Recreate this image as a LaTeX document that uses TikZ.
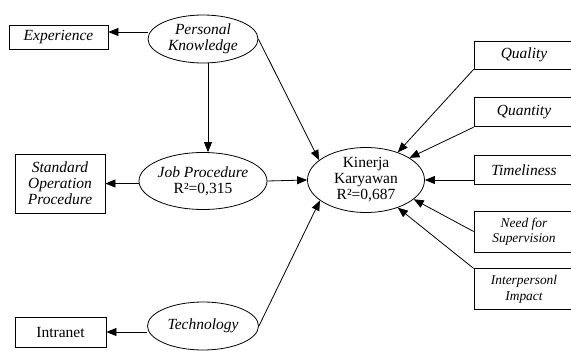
\documentclass[tikz,border=0pt]{standalone}
\usepackage{fontspec}
\setmainfont{Liberation Serif}
\usetikzlibrary{arrows.meta,positioning,shapes.geometric}

\begin{document}
\begin{tikzpicture}[x=1pt,y=-1pt,>={Triangle[length=10pt,width=8pt]},
font=\fontsize{15.5}{16}\selectfont,
every node/.style={inner sep=0pt,align=center},
lv/.style={draw,line width=0.8pt,ellipse},
ind/.style={draw,line width=0.8pt,rectangle},
sml/.style={font=\fontsize{13.4}{15.5}\selectfont\itshape},
arr/.style={->,line width=0.8pt}]
\useasboundingbox (0,0) rectangle (571,351);
% latent variables
\node[lv,minimum width=110pt,minimum height=48pt] (pk) at (203,39) {\itshape Personal\\\itshape Knowledge};
\node[lv,minimum width=111pt,minimum height=57pt] (jp) at (203,181) {\itshape Job Procedure\\R²=0,315};
\node[lv,minimum width=111pt,minimum height=48pt] (tech) at (203,326) {\itshape Technology};
\node[lv,minimum width=117pt,minimum height=65pt] (kk) at (366,180) {Kinerja\\Karyawan\\R²=0,687};
% indicators, left
\node[ind,minimum width=99pt,minimum height=24pt] (exp) at (58.5,37) {\itshape Experience};
\node[ind,minimum width=90pt,minimum height=59pt] (sop) at (60,183.5) {\itshape Standard\\\itshape Operation\\\itshape Procedure};
\node[ind,minimum width=91pt,minimum height=30pt] (intra) at (60.5,332) {Intranet};
% indicators, right
\node[ind,minimum width=100pt,minimum height=28pt] (qual) at (524,55) {\itshape Quality};
\node[ind,minimum width=100pt,minimum height=29pt,below=28pt of qual] (quan) {\itshape Quantity};
\node[ind,minimum width=100pt,minimum height=29pt,below=28pt of quan] (tim) {\itshape Timeliness};
\node[ind,sml,minimum width=100pt,minimum height=41pt] (need) at (524,231.5) {Need for\\Supervision};
\node[ind,sml,minimum width=100pt,minimum height=41pt,below=16pt of need] (inter) {Interpersonl\\Impact};
% paths
\draw[arr] ([yshift=7pt]pk.west) -- ([yshift=5pt]exp.east);
\draw[arr] (jp.west |- sop.east) -- (sop.east);
\draw[arr] (tech.west |- intra.east) -- (intra.east);
\draw[arr] ([xshift=5pt]pk.south) -- ([xshift=5pt]jp.north);
\draw[arr] (pk.east) -- (kk.157);
\draw[arr] (jp.east) -- (kk.west);
\draw[arr] (tech.east) -- (kk.204);
\draw[arr] (qual.south west) -- (kk.41);
\draw[arr] (quan.south west) -- (kk.27);
\draw[arr] (tim.west |- kk.east) -- (kk.east);
\draw[arr] (need.west) -- (kk.338);
\draw[arr] (inter.north west) -- (kk.319);
\end{tikzpicture}
\end{document}
